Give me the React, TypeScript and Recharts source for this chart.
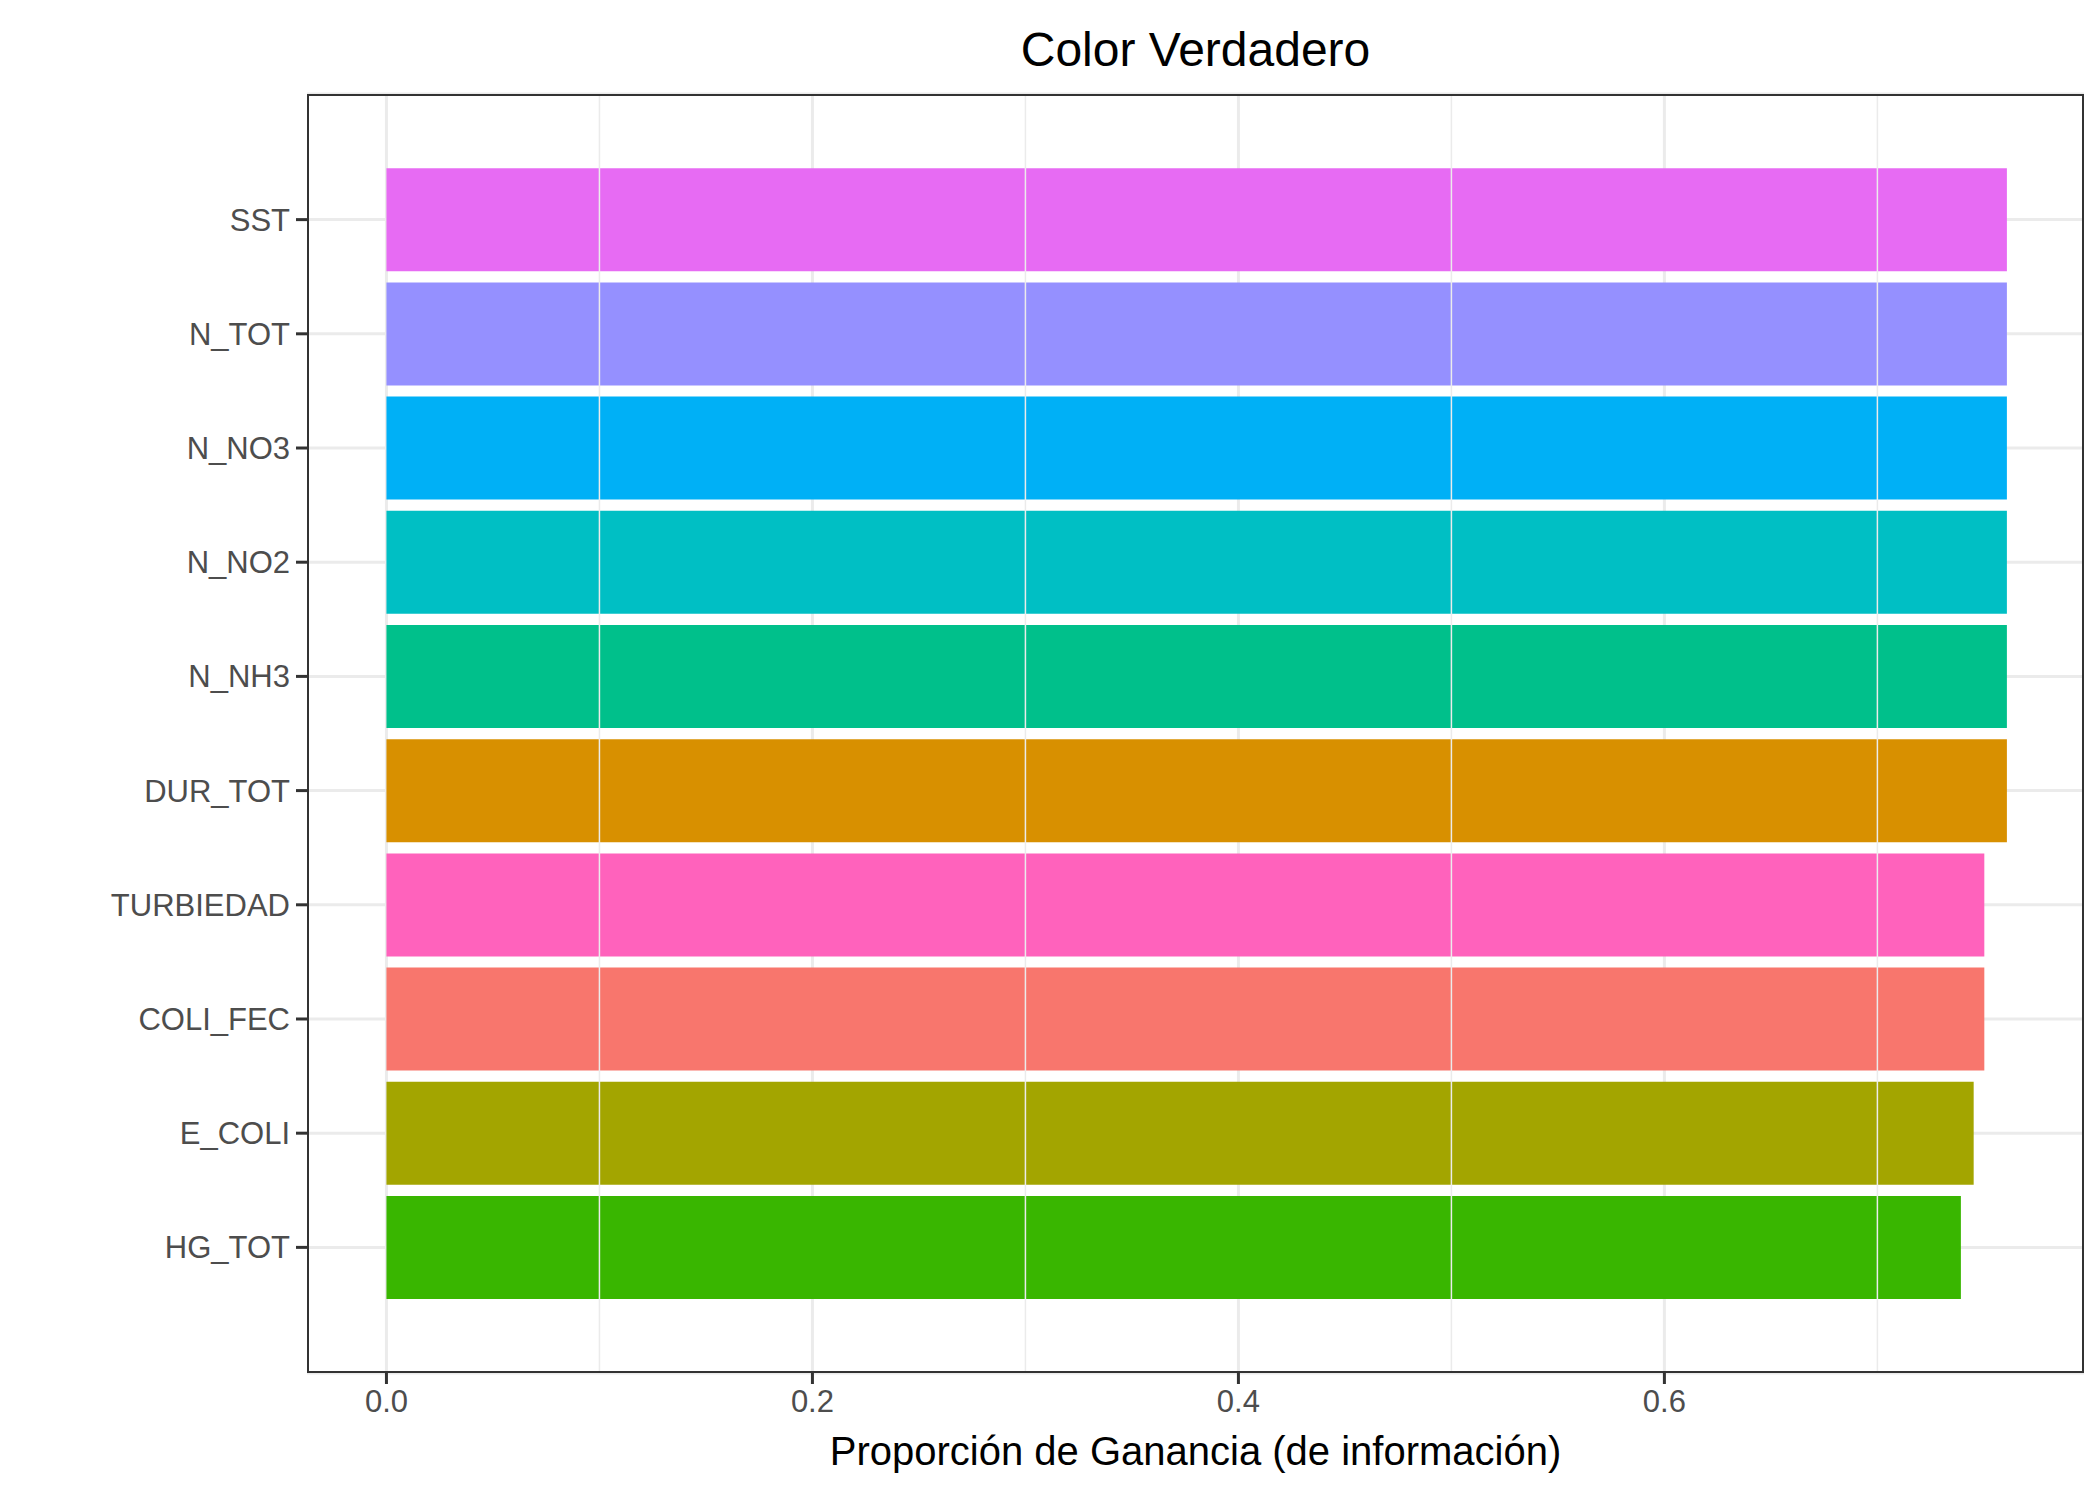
import React from "react";
import { BarChart, Bar, XAxis, YAxis, CartesianGrid, Cell, ReferenceLine } from "recharts";

const categories = ["SST", "N_TOT", "N_NO3", "N_NO2", "N_NH3", "DUR_TOT", "TURBIEDAD", "COLI_FEC", "E_COLI", "HG_TOT"];
const values = [0.7608, 0.7608, 0.7608, 0.7608, 0.7608, 0.7608, 0.7502, 0.7502, 0.7452, 0.7392];
const colors = ["#E76BF3", "#9590FF", "#00B0F6", "#00BFC4", "#00C08B", "#D89000", "#FF62BC", "#F8766D", "#A3A500", "#39B600"];
const xTicks = [0, 0.2, 0.4, 0.6];
const minorTicks = [0.1, 0.3, 0.5, 0.7];

const data = categories.map((c, i) => ({ name: c, value: values[i] }));

const W = 2092, H = 1491;
const LEFT = 299, TOP = 86, PW = 1777, PH = 1279;

export default function App() {
  const band = PH / (categories.length + 1.2);
  const pad = 0.6 * band;
  return (
    <div style={{ position: "relative", width: W, height: H, fontFamily: "Liberation Sans, Arial, sans-serif" }}>
      <div style={{ position: "absolute", left: LEFT, width: PW, top: 14, textAlign: "center", fontSize: 48, color: "#000" }}>Color Verdadero</div>
      <BarChart width={W} height={H} data={data} layout="vertical" barCategoryGap="5%"
        margin={{ top: TOP, right: W - LEFT - PW, bottom: H - TOP - PH - 100, left: 0 }}>
        <CartesianGrid stroke="#EBEBEB" strokeWidth={3} vertical={true} horizontal={true} verticalValues={xTicks} />
        {minorTicks.map((t) => (
          <ReferenceLine key={t} x={t} stroke="#EBEBEB" strokeWidth={1.5} />
        ))}
        <XAxis type="number" domain={[-0.0373, 0.797]} ticks={xTicks} allowDataOverflow
          tickFormatter={(v) => v.toFixed(1)} height={100}
          tick={{ fill: "#4D4D4D", fontSize: 31 }} tickSize={11} tickMargin={6}
          axisLine={false} tickLine={{ stroke: "#333", strokeWidth: 3 }}
          label={{ value: "Proporción de Ganancia (de información)", position: "insideBottom", offset: 8, fill: "#000", fontSize: 40 }} />
        <YAxis type="category" dataKey="name" width={LEFT} padding={{ top: pad, bottom: pad }}
          tick={{ fill: "#4D4D4D", fontSize: 31 }} tickSize={11} tickMargin={6}
          axisLine={false} tickLine={{ stroke: "#333", strokeWidth: 3 }} interval={0} />
        <Bar dataKey="value" isAnimationActive={false}>
          {data.map((d, i) => <Cell key={d.name} fill={colors[i]} />)}
        </Bar>
      </BarChart>
      <div style={{ position: "absolute", left: LEFT, top: TOP, width: PW, height: PH, border: "2.5px solid #333", boxSizing: "border-box", pointerEvents: "none" }} />
    </div>
  );
}
